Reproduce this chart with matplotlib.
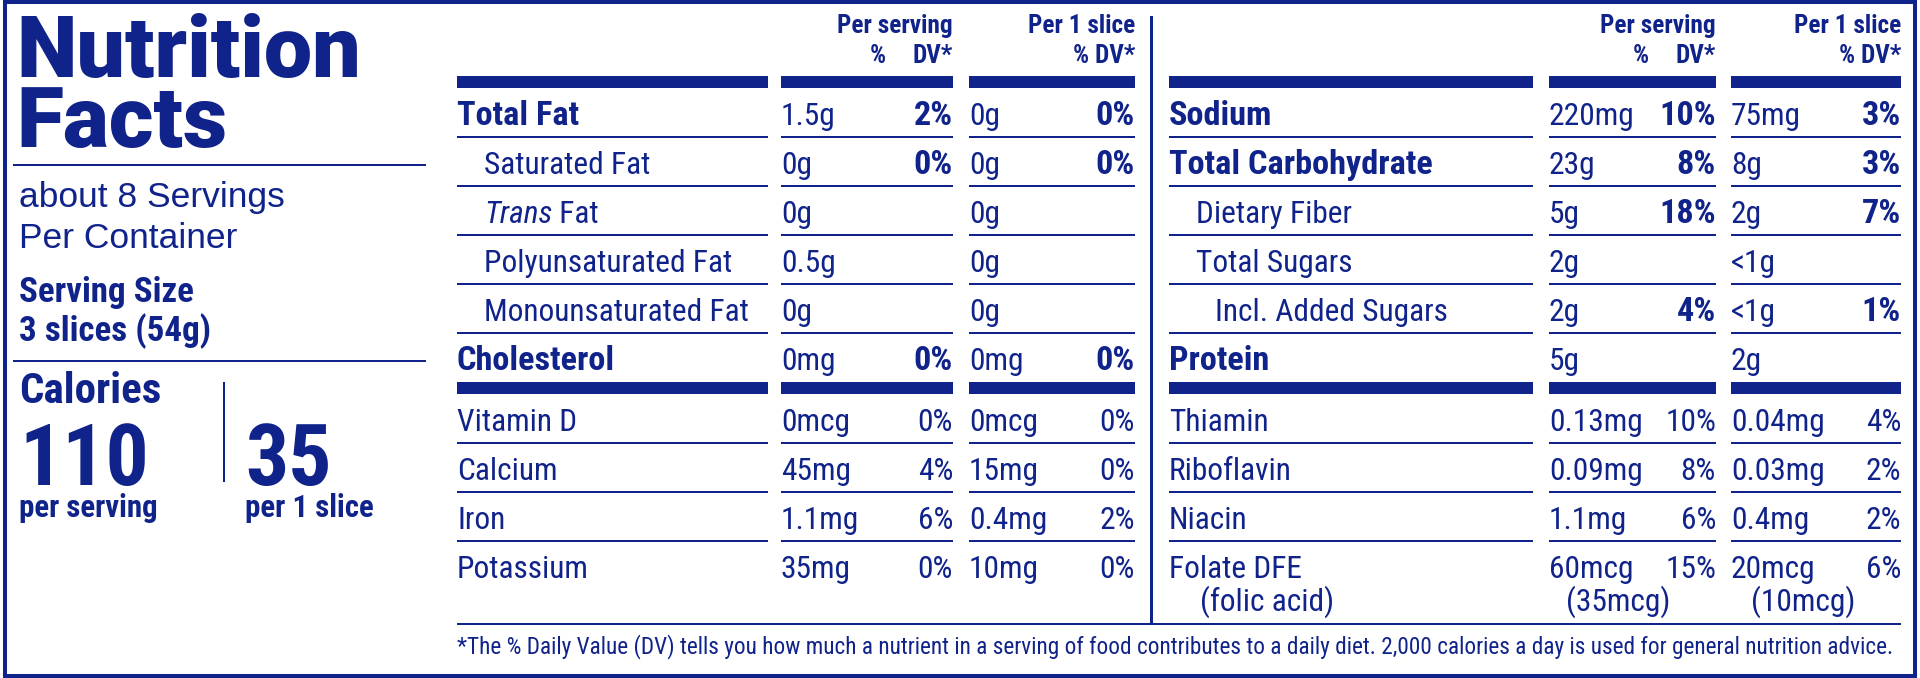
import matplotlib
matplotlib.use("Agg")
import matplotlib.pyplot as plt
from matplotlib.patches import Rectangle

NAVY = "#10238a"
NARROW = ["Roboto Condensed", "DejaVu Sans Condensed", "Liberation Sans Narrow",
          "Roboto", "DejaVu Sans"]
WIDE = ["Liberation Sans", "DejaVu Sans"]
HEAVY = ["Roboto", "DejaVu Sans"]

# ---- data ----
title = ["Nutrition", "Facts"]
servings = ["about 8 Servings", "Per Container"]
serving_size = ["Serving Size", "3 slices (54g)"]
calories = ["110", "35"]
calorie_labels = ["per serving", "per 1 slice"]
headers = ["Per serving", "Per 1 slice"]

left_labels = ["Total Fat", "Saturated Fat", "Trans Fat", "Polyunsaturated Fat",
               "Monounsaturated Fat", "Cholesterol", "Vitamin D", "Calcium", "Iron", "Potassium"]
left_style = ["bold", "indent", "trans", "indent", "indent", "bold",
              "plain", "plain", "plain", "plain"]
left_amt_srv = ["1.5g", "0g", "0g", "0.5g", "0g", "0mg", "0mcg", "45mg", "1.1mg", "35mg"]
left_dv_srv = ["2%", "0%", "", "", "", "0%", "0%", "4%", "6%", "0%"]
left_amt_slc = ["0g", "0g", "0g", "0g", "0g", "0mg", "0mcg", "15mg", "0.4mg", "10mg"]
left_dv_slc = ["0%", "0%", "", "", "", "0%", "0%", "0%", "2%", "0%"]

right_labels = ["Sodium", "Total Carbohydrate", "Dietary Fiber", "Total Sugars",
                "Incl. Added Sugars", "Protein", "Thiamin", "Riboflavin", "Niacin", "Folate DFE"]
right_style = ["bold", "bold", "indent", "indent", "indent2", "bold",
               "plain", "plain", "plain", "plain"]
right_amt_srv = ["220mg", "23g", "5g", "2g", "2g", "5g", "0.13mg", "0.09mg", "1.1mg", "60mcg"]
right_dv_srv = ["10%", "8%", "18%", "", "4%", "", "10%", "8%", "6%", "15%"]
right_amt_slc = ["75mg", "8g", "2g", "<1g", "<1g", "2g", "0.04mg", "0.03mg", "0.4mg", "20mcg"]
right_dv_slc = ["3%", "3%", "7%", "", "1%", "", "4%", "2%", "2%", "6%"]
folate_sub = ["(folic acid)", "(35mcg)", "(10mcg)"]

footnote = ("*The % Daily Value (DV) tells you how much a nutrient in a serving of food "
            "contributes to a daily diet. 2,000 calories a day is used for general nutrition advice.")

# ---- figure ----
fig = plt.figure(figsize=(19.2, 6.78), dpi=100)
ax = fig.add_axes([0, 0, 1, 1])
ax.set_xlim(0, 1920)
ax.set_ylim(678, 0)
ax.axis("off")
R = fig.canvas.get_renderer()


def txt(x, y, s, size, fam=NARROW, weight="normal", ha="left", style="normal"):
    return ax.text(x, y, s, fontsize=size, family=fam, fontweight=weight, ha=ha,
                   va="baseline", color=NAVY, fontstyle=style,
                   fontstretch="condensed" if fam is NARROW else "normal")


def fit(t, width):
    w = t.get_window_extent(R).width
    t.set_fontsize(t.get_fontsize() * width / w)


def size_for(s, width, size, weight="normal", fam=NARROW):
    # largest size (up to `size`) at which s is no wider than width
    t = txt(0, 0, s, size, fam, weight)
    w = t.get_window_extent(R).width
    t.remove()
    return min(size, size * width / w)


def bar(x0, x1, y, h):
    ax.add_patch(Rectangle((x0, y - h / 2), x1 - x0, h, color=NAVY, lw=0))


SZ = size_for("Polyunsaturated Fat", 237, 24) * 1.05
SZB = size_for("Total Fat", 122, 25, "bold")
HS = size_for("Per serving", 114, 17.5, "bold") * 1.04

# outer border
ax.add_patch(Rectangle((4.5, 2), 1910.5, 673.5, fill=False, ec=NAVY, lw=2.9))

# ---- left panel ----
tsz = size_for(title[0], 375, 62, 900, HEAVY)
txt(16, 77, title[0], tsz, HEAVY, 900)
txt(16, 147, title[1], tsz, HEAVY, 900)
bar(13, 426, 165, 2.5)
txt(19, 207, servings[0], 25.5, WIDE)
txt(19, 248, servings[1], 25.5, WIDE)
ssz = size_for(serving_size[0], 175, 25.5, "bold")
txt(19, 302, serving_size[0], ssz, NARROW, "bold")
txt(19, 341, serving_size[1], ssz, NARROW, "bold")
bar(13, 426, 361, 2.5)
txt(19, 403, "Calories", size_for("Calories", 151, 31, "bold"), NARROW, "bold")
csz = size_for("110", 130, 66, "bold")
lsz = size_for(calorie_labels[0], 139, 25, "bold")
for x, cal, lab in zip([19, 245], calories, calorie_labels):
    txt(x, 485, cal, csz, NARROW, "bold")
    txt(x, 517, lab, lsz, NARROW, "bold")
ax.add_patch(Rectangle((223, 382), 2, 100, color=NAVY, lw=0))

# ---- table ----
panels = [
    dict(lx=457, lend=768, c2=(781, 953), c3=(969, 1135),
         labels=left_labels, style=left_style, a2=left_amt_srv, d2=left_dv_srv,
         a3=left_amt_slc, d3=left_dv_slc),
    dict(lx=1169, lend=1533, c2=(1549, 1716), c3=(1731, 1901),
         labels=right_labels, style=right_style, a2=right_amt_srv, d2=right_dv_srv,
         a3=right_amt_slc, d3=right_dv_slc),
]
indent = {"bold": 0, "plain": 0, "indent": 27, "trans": 27, "indent2": 46}

for p in panels:
    segs = [(p["lx"], p["lend"]), p["c2"], p["c3"]]
    # headers
    txt(p["c2"][1], 33, headers[0], HS, NARROW, "bold", "right")
    txt(p["c2"][1], 63, "DV*", HS, NARROW, "bold", "right")
    txt(p["c2"][1] - 67, 63, "%", HS, NARROW, "bold", "right")
    txt(p["c3"][1], 33, headers[1], HS, NARROW, "bold", "right")
    txt(p["c3"][1], 63, "% DV*", HS, NARROW, "bold", "right")
    for a, b in segs:
        bar(a, b, 82, 12)
        bar(a, b, 388, 12)
    for i in range(len(p["labels"])):
        base = 125 + 49 * i if i < 6 else 431 + 49 * (i - 6)
        st = p["style"][i]
        x = p["lx"] + indent[st]
        if st == "trans":
            t = txt(x, base, "Trans", SZ, NARROW, style="italic")
            bb = t.get_window_extent(R)
            txt(bb.x1, base, " Fat", SZ)
        elif st == "bold":
            txt(x, base, p["labels"][i], SZB, NARROW, "bold")
        else:
            txt(x, base, p["labels"][i], SZ)
        bold = i < 6
        txt(p["c2"][0], base, p["a2"][i], SZ)
        txt(p["c2"][1], base, p["d2"][i], SZB if bold else SZ, NARROW,
            "bold" if bold else "normal", "right")
        txt(p["c3"][0], base, p["a3"][i], SZ)
        txt(p["c3"][1], base, p["d3"][i], SZB if bold else SZ, NARROW,
            "bold" if bold else "normal", "right")
        if i < 5 or 5 < i < 9:
            y = 137 + 49 * i if i < 5 else 443 + 49 * (i - 6)
            for a, b in segs:
                bar(a, b, y, 2.5)

# folate second line
txt(1200, 611, folate_sub[0], SZ)
txt(1566, 611, folate_sub[1], SZ)
txt(1751, 611, folate_sub[2], SZ)

# divider and bottom rule
ax.add_patch(Rectangle((1150, 16), 2.5, 608, color=NAVY, lw=0))
bar(457, 1901, 624, 2.5)
t = txt(457, 653, footnote, 16)
fit(t, 1442)

fig.savefig("out.png", dpi=100)
